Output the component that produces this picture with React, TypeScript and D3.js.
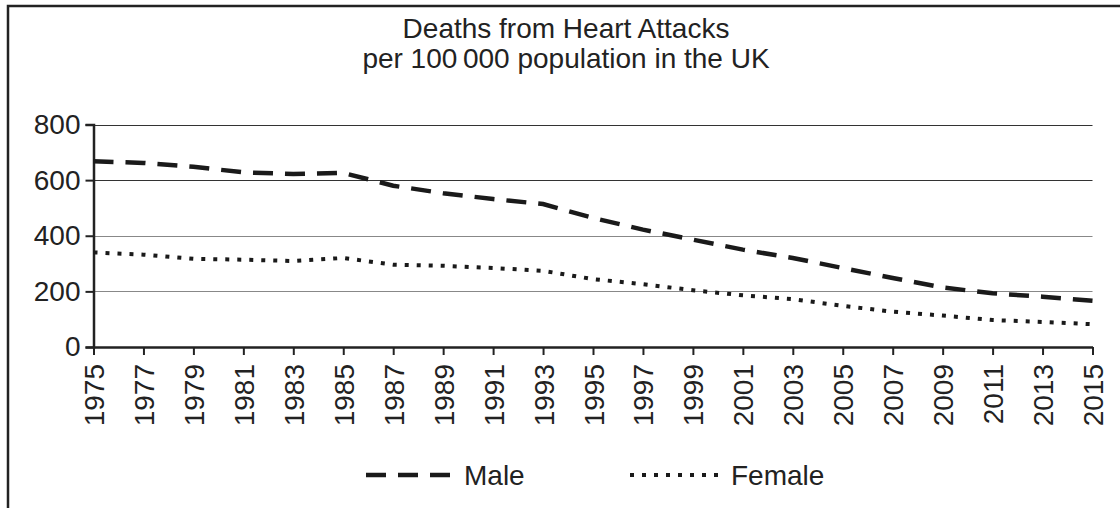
import React, {useEffect, useRef} from 'react';
import * as d3 from "d3";

// data (every second year)
const years = [1975, 1977, 1979, 1981, 1983, 1985, 1987, 1989, 1991, 1993, 1995, 1997, 1999, 2001, 2003, 2005, 2007, 2009, 2011, 2013, 2015];
const male = [668, 662, 648, 628, 622, 626, 580, 553, 532, 514, 464, 422, 386, 350, 320, 284, 248, 214, 193, 181, 166];
const female = [340, 332, 317, 314, 309, 320, 296, 292, 284, 274, 244, 226, 204, 186, 172, 148, 127, 113, 97, 90, 82];
const yTicks = [0, 200, 400, 600, 800];
const titleLines = ["Deaths from Heart Attacks", "per 100\u202F000 population in the UK"];
const seriesNames = ["Male", "Female"];

const FONT = "'Liberation Sans', Arial, Helvetica, sans-serif";

export default function App() {
  const svgRef = useRef(null);

  function drawChart(svgRef, width, height) {
    const svg = d3.select(svgRef.current);
    svg.selectAll("*").remove();
    svg.attr("width", width).attr("height", height);

    const margin = {top: 124.5, right: 27.5, bottom: 161, left: 93.5};
    const w = width - margin.left - margin.right;

    const xScale = d3.scaleLinear()
      .domain([years[0], years[years.length - 1]])
      .range([margin.left, margin.left + w]);

    const yScale = d3.scaleLinear()
      .domain([0, 800])
      .range([height - margin.bottom, margin.top]);

    // frame (only top + left show in the original)
    svg.append("rect")
      .attr("x", 8).attr("y", 6)
      .attr("width", width + 20).attr("height", height + 20)
      .attr("fill", "white")
      .attr("stroke", "#222")
      .attr("stroke-width", 2.5);

    // title
    svg.append("g").selectAll("text")
      .data(titleLines)
      .enter()
      .append("text")
      .attr("x", 566)
      .attr("y", (d, i) => 38 + i * 30)
      .attr("text-anchor", "middle")
      .attr("font-family", FONT)
      .attr("font-size", 28)
      .attr("fill", "#222")
      .text(d => d);

    // gridlines
    svg.append("g").selectAll("line")
      .data(yTicks.filter(d => d > 0))
      .enter()
      .append("line")
      .attr("x1", xScale(years[0]))
      .attr("x2", xScale(years[years.length - 1]))
      .attr("y1", d => Math.round(yScale(d)) + 0.5)
      .attr("y2", d => Math.round(yScale(d)) + 0.5)
      .attr("stroke", d => d >= 600 ? "#333" : "#888")
      .attr("stroke-width", 1.2);

    // y axis
    const yAxis = d3.axisLeft(yScale)
      .tickValues(yTicks)
      .tickSize(8)
      .tickPadding(5);
    const yG = svg.append("g").call(yAxis);
    yG.select(".domain").attr("stroke", "#222").attr("stroke-width", 2.5);
    yG.selectAll(".tick line").attr("stroke", "#222").attr("stroke-width", 2);
    yG.selectAll(".tick text")
      .attr("font-family", FONT)
      .attr("font-size", 28)
      .attr("fill", "#222");
    yG.attr("transform", `translate(${margin.left},0)`);

    // x axis
    const xAxis = d3.axisBottom(xScale)
      .tickValues(years)
      .tickFormat(d3.format("d"))
      .tickSize(8)
      .tickSizeOuter(0);
    const xG = svg.append("g")
      .attr("transform", `translate(0,${yScale(0)})`)
      .call(xAxis);
    xG.select(".domain").attr("stroke", "#222").attr("stroke-width", 2.5);
    xG.selectAll(".tick line").attr("stroke", "#222").attr("stroke-width", 2);
    xG.selectAll(".tick text")
      .attr("font-family", FONT)
      .attr("font-size", 28)
      .attr("fill", "#222")
      .attr("text-anchor", "end")
      .attr("dy", null)
      .attr("y", 0)
      .attr("transform", "translate(10,17) rotate(-90)");

    // lines
    const lineFunc = d3.line()
      .x((d, i) => xScale(years[i]))
      .y(d => yScale(d));

    const styles = [
      {data: male, dash: "20 12", width: 4.5},
      {data: female, dash: "4 8", width: 4},
    ];

    styles.forEach(s => {
      svg.append("path")
        .attr("d", lineFunc(s.data))
        .attr("fill", "none")
        .attr("stroke", "#1a1a1a")
        .attr("stroke-width", s.width)
        .attr("stroke-dasharray", s.dash);
    });

    // legend
    const legendX = [366, 630];
    const legend = svg.append("g").selectAll("g")
      .data(seriesNames)
      .enter()
      .append("g")
      .attr("transform", (d, i) => `translate(${legendX[i]},475)`);
    legend.append("line")
      .attr("x1", 0).attr("x2", (d, i) => i === 0 ? 86 : 92)
      .attr("y1", 0).attr("y2", 0)
      .attr("stroke", "#1a1a1a")
      .attr("stroke-width", (d, i) => styles[i].width)
      .attr("stroke-dasharray", (d, i) => styles[i].dash);
    legend.append("text")
      .attr("x", (d, i) => i === 0 ? 98 : 101)
      .attr("y", 10)
      .attr("font-family", FONT)
      .attr("font-size", 28)
      .attr("fill", "#222")
      .text(d => d);
  }

  useEffect(() => {
    drawChart(svgRef, 1120, 508);
  }, [svgRef]);

  return (
    <div style={{position: "fixed", left: 0, top: 0, background: "white"}}>
      <svg ref={svgRef} width={1120} height={508} style={{display: "block"}}/>
    </div>
  )
}
